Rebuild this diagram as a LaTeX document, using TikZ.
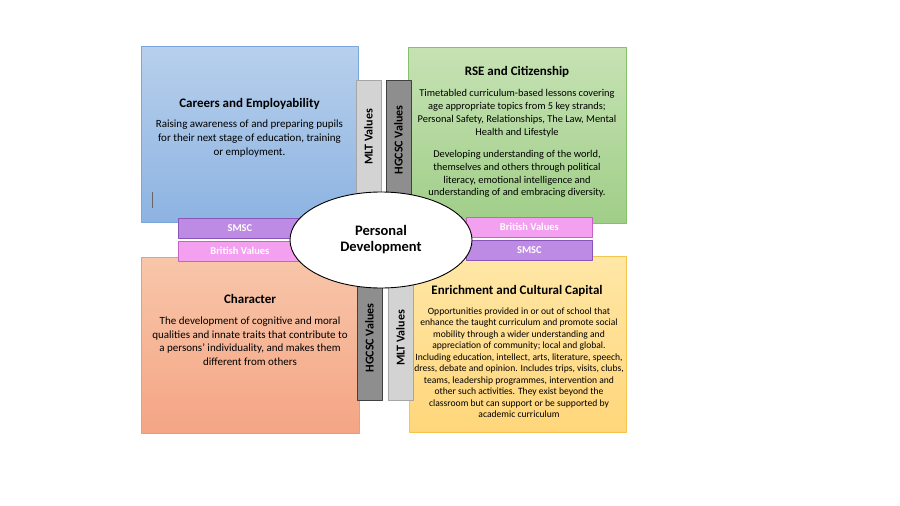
\documentclass[tikz,border=0pt]{standalone}
\usepackage{fontspec}
\setmainfont{Carlito}
\usetikzlibrary{shapes.geometric}
\definecolor{blueTop}{HTML}{B7D0EC}
\definecolor{blueBot}{HTML}{8DB3E2}
\definecolor{blueLine}{HTML}{7AA6DC}
\definecolor{greenTop}{HTML}{C6E2B4}
\definecolor{greenBot}{HTML}{A0CE88}
\definecolor{greenLine}{HTML}{86C06A}
\definecolor{salmonTop}{HTML}{F8C6AA}
\definecolor{salmonBot}{HTML}{F4A584}
\definecolor{salmonLine}{HTML}{EE9C78}
\definecolor{orangeTop}{HTML}{FFE7A6}
\definecolor{orangeBot}{HTML}{FFD67A}
\definecolor{orangeLine}{HTML}{F5C44E}
\definecolor{smscFill}{HTML}{BD8AE4}
\definecolor{smscLine}{HTML}{8A55B8}
\definecolor{britFill}{HTML}{F4A0F0}
\definecolor{britLine}{HTML}{C862C4}
\definecolor{mltFill}{HTML}{D3D3D3}
\definecolor{mltLine}{HTML}{A6A6A6}
\definecolor{hgFill}{HTML}{8E8E8E}
\definecolor{hgLine}{HTML}{404040}
\begin{document}
\begin{tikzpicture}[x=1pt, y=-1pt, line join=round,
    quad/.style={draw=#1Line, line width=0.8pt, top color=#1Top, bottom color=#1Bot,
                 anchor=north west, inner sep=0pt, minimum width=217pt, minimum height=176pt},
    hbar/.style={draw=#1Line, line width=0.8pt, fill=#1Fill, anchor=north west, inner sep=0pt,
                 minimum width=123pt, minimum height=19.5pt, text=white,
                 font=\fontsize{10.5}{12}\selectfont\bfseries},
    vbar/.style={draw=#1Line, line width=0.8pt, fill=#1Fill, anchor=north west, inner sep=0pt,
                 minimum width=25pt, minimum height=130pt},
    vlabel/.style={rotate=90, font=\fontsize{12}{13}\selectfont\bfseries},
    title/.style={font=\fontsize{13}{15}\selectfont\bfseries},
    body/.style={align=center, anchor=north, inner sep=0pt}]
\useasboundingbox (0,0) rectangle (900,506);
% four quadrants
\node[quad=blue] (careers) at (141,46) {};
\node[quad=green, minimum width=218pt] (rse) at (408,47) {};
\node[quad=salmon, minimum width=218pt] (character) at (141,257) {};
\node[quad=orange] (enrich) at (409,256) {};
\draw[gray!80!black, line width=0.6pt] (152.5,192) -- (152.5,208);
% texts
\node[title] (careersT) at (249.5,103.5) {Careers and Employability};
\node[body, font=\fontsize{11}{14}\selectfont] (careersB) at (249.5,119.5)
  {Raising awareness of and preparing pupils\\for their next stage of education, training\\or employment.};
\node[title] (rseT) at (517,72) {RSE and Citizenship};
\node[body, font=\fontsize{10.4}{12.8}\selectfont] (rseB) at (517,89.5)
  {Timetabled curriculum-based lessons covering\\age appropriate topics from 5 key strands;\\Personal Safety, Relationships, The Law, Mental\\Health and Lifestyle};
\node[body, font=\fontsize{10.4}{12.8}\selectfont] (rseC) at (517,150)
  {Developing understanding of the world,\\themselves and others through political\\literacy, emotional intelligence and\\understanding of and embracing diversity.};
\node[title] (charT) at (250,299) {Character};
\node[body, font=\fontsize{11}{13.7}\selectfont] (charB) at (250,316.5)
  {The development of cognitive and moral\\qualities and innate traits that contribute to\\a persons' individuality, and makes them\\different from others};
\node[title] (enrichT) at (517,291) {Enrichment and Cultural Capital};
\node[body, font=\fontsize{9.6}{11.5}\selectfont] (enrichB) at (519,307.5)
  {Opportunities provided in or out of school that\\enhance the taught curriculum and promote social\\mobility through a wider understanding and\\appreciation of community; local and global.\\Including education, intellect, arts, literature, speech,\\dress, debate and opinion. Includes trips, visits, clubs,\\teams, leadership programmes, intervention and\\other such activities. They exist beyond the\\classroom but can support or be supported by\\academic curriculum};
% value bars
\node[vbar=mlt] (mltTop) at (356,80) {};
\node[vbar=hg] (hgTop) at (386,80) {};
\node[vbar=hg] (hgBot) at (357,270) {};
\node[vbar=mlt] (mltBot) at (388,270) {};
\node[vlabel] at (368.5,137) {MLT Values};
\node[vlabel] at (398.5,140) {HGCSC Values};
\node[vlabel] at (369.5,338) {HGCSC Values};
\node[vlabel] at (400.5,338) {MLT Values};
\node[hbar=smsc] (smscL) at (178,218) {SMSC};
\node[hbar=brit] (britL) at (178,241) {British Values};
\node[hbar=brit, minimum width=126pt] (britR) at (466,217) {British Values};
\node[hbar=smsc, minimum width=126pt] (smscR) at (466,240) {SMSC};
% centre
\node[draw, line width=0.9pt, fill=white, ellipse, minimum width=182pt, minimum height=96pt,
      inner sep=0pt, align=center, font=\fontsize{14.5}{16}\selectfont\bfseries] (pd) at (381,240)
  {Personal\\Development};
\end{tikzpicture}
\end{document}
